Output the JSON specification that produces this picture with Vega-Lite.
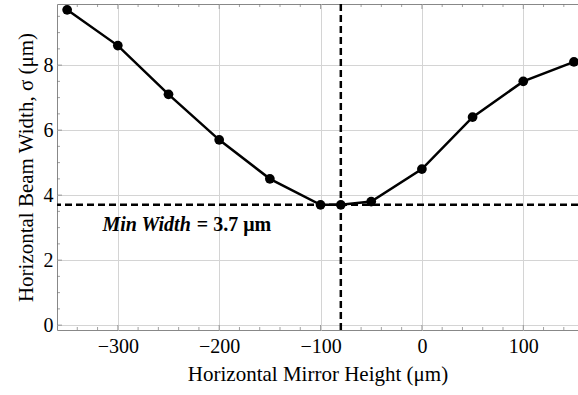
{
  "$schema": "https://vega.github.io/schema/vega-lite/v6.json",
  "width": 521,
  "height": 326,
  "autosize": {"type": "none"},
  "padding": {"left": 57, "top": 4, "right": 0, "bottom": 65},
  "background": "white",
  "config": {
    "view": {"stroke": "#888", "strokeWidth": 1},
    "font": "Liberation Serif",
    "axis": {
      "labelFont": "Liberation Serif",
      "titleFont": "Liberation Serif",
      "labelFontSize": 20,
      "titleFontSize": 21,
      "titleFontWeight": "normal",
      "labelColor": "#000",
      "titleColor": "#000",
      "domain": false,
      "ticks": false,
      "gridColor": "#d4d4d4",
      "gridWidth": 1
    }
  },
  "datasets": {
    "beam": [
      {"h": -350, "w": 9.7},
      {"h": -300, "w": 8.6},
      {"h": -250, "w": 7.1},
      {"h": -200, "w": 5.7},
      {"h": -150, "w": 4.5},
      {"h": -100, "w": 3.7},
      {"h": -80, "w": 3.7},
      {"h": -50, "w": 3.8},
      {"h": 0, "w": 4.8},
      {"h": 50, "w": 6.4},
      {"h": 100, "w": 7.5},
      {"h": 150, "w": 8.1}
    ],
    "minw": [{"w": 3.7}],
    "minh": [{"h": -80}],
    "note": [{"h": -227, "w": 3.08, "a": "Min Width", "b": "= 3.7 μm"}],
    "xmajor": [{"h": -300}, {"h": -200}, {"h": -100}, {"h": 0}, {"h": 100}],
    "xminor": [{"h": -340}, {"h": -320}, {"h": -280}, {"h": -260}, {"h": -240}, {"h": -220}, {"h": -180}, {"h": -160}, {"h": -140}, {"h": -120}, {"h": -80}, {"h": -60}, {"h": -40}, {"h": -20}, {"h": 20}, {"h": 40}, {"h": 60}, {"h": 80}, {"h": 120}, {"h": 140}],
    "ymajor": [{"w": 0}, {"w": 2}, {"w": 4}, {"w": 6}, {"w": 8}],
    "yminor": [{"w": 0.5}, {"w": 1}, {"w": 1.5}, {"w": 2.5}, {"w": 3}, {"w": 3.5}, {"w": 4.5}, {"w": 5}, {"w": 5.5}, {"w": 6.5}, {"w": 7}, {"w": 7.5}, {"w": 8.5}, {"w": 9}, {"w": 9.5}]
  },
  "layer": [
    {
      "data": {"name": "beam"},
      "mark": {"type": "line", "color": "#000", "strokeWidth": 2.5},
      "encoding": {
        "x": {
          "field": "h", "type": "quantitative",
          "scale": {"domain": [-360, 154], "nice": false, "zero": false},
          "axis": {
            "title": "Horizontal Mirror Height (μm)",
            "values": [-300, -200, -100, 0, 100],
            "grid": true,
            "labelPadding": 6,
            "titlePadding": 7,
            "labelExpr": "replace(datum.label, '-', '−')"
          }
        },
        "y": {
          "field": "w", "type": "quantitative",
          "scale": {"domain": [-0.15, 9.88], "nice": false, "zero": false},
          "axis": {
            "title": "Horizontal Beam Width, σ (μm)",
            "values": [0, 2, 4, 6, 8],
            "grid": true,
            "labelPadding": 4,
            "titlePadding": 7
          }
        }
      }
    },
    {
      "data": {"name": "xmajor"},
      "mark": {"type": "tick", "orient": "vertical", "color": "#777", "thickness": 1, "size": 10, "clip": true},
      "encoding": {"x": {"field": "h", "type": "quantitative"}, "y": {"datum": -0.15, "type": "quantitative"}}
    },
    {
      "data": {"name": "xmajor"},
      "mark": {"type": "tick", "orient": "vertical", "color": "#777", "thickness": 1, "size": 10, "clip": true},
      "encoding": {"x": {"field": "h", "type": "quantitative"}, "y": {"datum": 9.88, "type": "quantitative"}}
    },
    {
      "data": {"name": "xminor"},
      "mark": {"type": "tick", "orient": "vertical", "color": "#777", "thickness": 1, "size": 6, "clip": true},
      "encoding": {"x": {"field": "h", "type": "quantitative"}, "y": {"datum": -0.15, "type": "quantitative"}}
    },
    {
      "data": {"name": "xminor"},
      "mark": {"type": "tick", "orient": "vertical", "color": "#777", "thickness": 1, "size": 6, "clip": true},
      "encoding": {"x": {"field": "h", "type": "quantitative"}, "y": {"datum": 9.88, "type": "quantitative"}}
    },
    {
      "data": {"name": "ymajor"},
      "mark": {"type": "tick", "orient": "horizontal", "color": "#777", "thickness": 1, "size": 10, "clip": true},
      "encoding": {"y": {"field": "w", "type": "quantitative"}, "x": {"datum": -360, "type": "quantitative"}}
    },
    {
      "data": {"name": "yminor"},
      "mark": {"type": "tick", "orient": "horizontal", "color": "#777", "thickness": 1, "size": 6, "clip": true},
      "encoding": {"y": {"field": "w", "type": "quantitative"}, "x": {"datum": -360, "type": "quantitative"}}
    },
    {
      "data": {"name": "beam"},
      "mark": {"type": "point", "filled": true, "color": "#000", "size": 95, "opacity": 1},
      "encoding": {
        "x": {"field": "h", "type": "quantitative"},
        "y": {"field": "w", "type": "quantitative"}
      }
    },
    {
      "data": {"name": "minw"},
      "mark": {"type": "rule", "color": "#000", "strokeWidth": 2.5, "strokeDash": [7, 4]},
      "encoding": {"y": {"field": "w", "type": "quantitative"}}
    },
    {
      "data": {"name": "minh"},
      "mark": {"type": "rule", "color": "#000", "strokeWidth": 2.5, "strokeDash": [7, 4]},
      "encoding": {"x": {"field": "h", "type": "quantitative"}}
    },
    {
      "data": {"name": "note"},
      "mark": {"type": "text", "align": "right", "baseline": "middle", "dx": -1, "font": "Liberation Serif", "fontSize": 20, "fontWeight": "bold", "fontStyle": "italic", "color": "#000"},
      "encoding": {
        "x": {"field": "h", "type": "quantitative"},
        "y": {"field": "w", "type": "quantitative"},
        "text": {"field": "a"}
      }
    },
    {
      "data": {"name": "note"},
      "mark": {"type": "text", "align": "left", "baseline": "middle", "dx": 5, "font": "Liberation Serif", "fontSize": 20, "fontWeight": "bold", "color": "#000"},
      "encoding": {
        "x": {"field": "h", "type": "quantitative"},
        "y": {"field": "w", "type": "quantitative"},
        "text": {"field": "b"}
      }
    }
  ]
}
